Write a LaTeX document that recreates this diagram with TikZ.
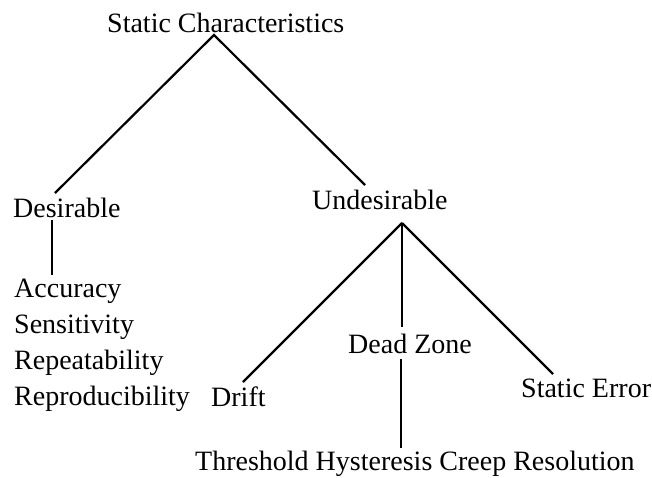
\documentclass[tikz,border=0pt]{standalone}
\usepackage{fontspec}
\setmainfont{Liberation Serif}
\usetikzlibrary{positioning}

\tikzset{
    lbl/.style={anchor=base west, inner sep=0pt, font=\fontsize{28}{33}\selectfont},
    branch/.style={line width=2.2pt, black}
}

\begin{document}
\begin{tikzpicture}[x=1pt, y=-1pt]

    \useasboundingbox (0,0) rectangle (652,477);

    % headings
    \node[lbl] (root) at (107,32) {Static Characteristics};
    \node[lbl] (des) at (13,217) {Desirable};
    \node[lbl] (undes) at (312,209) {Undesirable};

    % desirable ones
    \foreach \name/\txt [count=\i] in {acc/Accuracy, sens/Sensitivity, rep/Repeatability, repro/Reproducibility}{
            \node[lbl] (\name) at (14,261+36*\i) {\txt};
        }

    % undesirable ones
    \node[lbl] (drift) at (211,406) {Drift};
    \node[lbl] (dead) at (348,353) {Dead Zone};
    \node[lbl] (serr) at (521,397) {Static Error};
    \node[lbl] (dzlist) at (195,470) {Threshold Hysteresis Creep Resolution};

    % end points of the branches
    \coordinate (rootTip) at (214,35);
    \coordinate (desTop) at (55,193);
    \coordinate (desBot) at (52,220);
    \coordinate (accTop) at (52,275);
    \coordinate (undesTop) at (365,185);
    \coordinate (undesTip) at (402,223);
    \coordinate (driftTop) at (243,382);
    \coordinate (deadTop) at (402,327);
    \coordinate (serrTop) at (553,374);
    \coordinate (deadBot) at (401,359);
    \coordinate (dzlistTop) at (401,448);

    \draw[branch] (desTop) -- (rootTip) -- (undesTop);
    \draw[branch] (desBot) -- (accTop);
    \draw[branch] (undesTip) -- (driftTop);
    \draw[branch] (undesTip) -- (deadTop);
    \draw[branch] (undesTip) -- (serrTop);
    \draw[branch] (deadBot) -- (dzlistTop);

\end{tikzpicture}
\end{document}
